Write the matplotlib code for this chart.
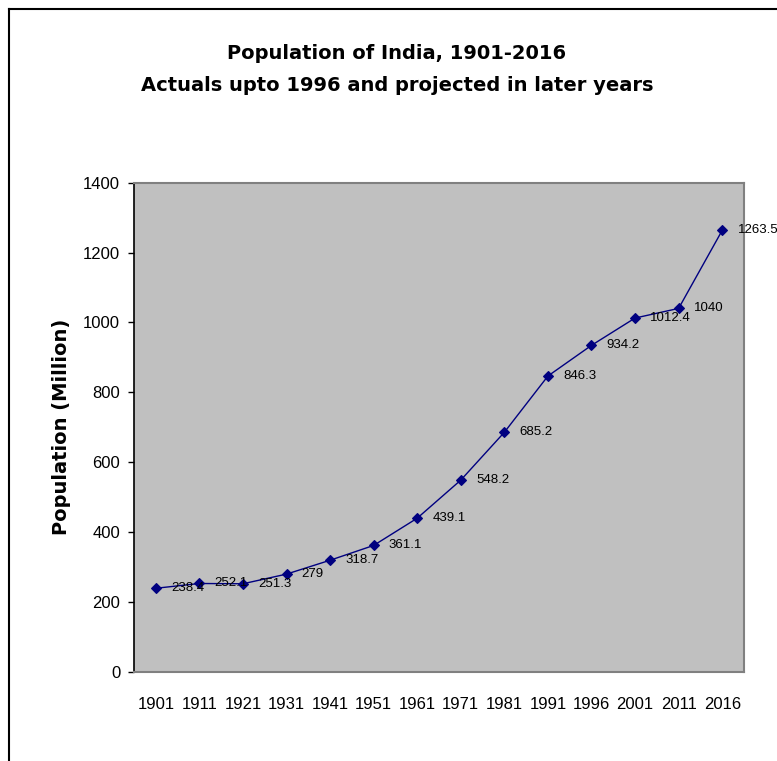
import matplotlib
matplotlib.use("Agg")
import matplotlib.pyplot as plt
from matplotlib.lines import Line2D

plt.rcParams['font.family'] = ['Liberation Sans', 'DejaVu Sans']

# Census years and population in millions (1996 onward partly projected)
years = ['1901', '1911', '1921', '1931', '1941', '1951', '1961', '1971',
         '1981', '1991', '1996', '2001', '2011', '2016']
population = [238.4, 252.1, 251.3, 279, 318.7, 361.1, 439.1, 548.2,
              685.2, 846.3, 934.2, 1012.4, 1040, 1263.5]
yticks = [0, 200, 400, 600, 800, 1000, 1200, 1400]

fig = plt.figure(figsize=(7.77, 7.61), dpi=100)
ax = fig.add_axes([0.1725, 0.1176, 0.785, 0.6423])
ax.set_facecolor('#c0c0c0')

x = list(range(len(years)))
ax.plot(x, population, color='#000080', lw=1, marker='D', ms=4.8,
        mfc='#000080', mec='#000080', mew=0.8, zorder=3)

for xi, v in zip(x, population):
    ax.annotate(f'{v:g}', (xi, v), xytext=(11, 0), textcoords='offset points',
                ha='left', va='center', fontsize=9.5, color='black',
                annotation_clip=False, clip_on=False)

ax.set_xlim(-0.5, len(years) - 0.5)
ax.set_ylim(0, 1400)
ax.set_yticks(yticks)
ax.set_xticks(x)
ax.set_xticklabels(years)
ax.tick_params(axis='y', direction='out', length=4, width=1, pad=6, labelsize=12)
ax.tick_params(axis='x', length=0, pad=18, labelsize=12)

for side in ['top', 'right', 'bottom']:
    ax.spines[side].set_color('#808080')
    ax.spines[side].set_linewidth(1.5)
ax.spines['left'].set_color('black')
ax.spines['left'].set_linewidth(1.2)

bold_font = {'family': 'DejaVu Sans', 'weight': 'bold'}
ax.set_ylabel('Population (Million)', fontsize=14, fontdict=bold_font, labelpad=9)

fig.text(0.511, 0.930, 'Population of India, 1901-2016', ha='center', va='center',
         fontsize=14, fontdict=bold_font)
fig.text(0.511, 0.888, 'Actuals upto 1996 and projected in later years', ha='center',
         va='center', fontsize=14, fontdict=bold_font)

# chart frame (left and top edges)
fig.add_artist(Line2D([8.5 / 777, 8.5 / 777], [0, 1 - 8.5 / 761], color='black', lw=1.5,
                      transform=fig.transFigure))
fig.add_artist(Line2D([8.5 / 777, 1], [1 - 8.5 / 761, 1 - 8.5 / 761], color='black', lw=1.5,
                      transform=fig.transFigure))

fig.savefig('out.png', dpi=100)
